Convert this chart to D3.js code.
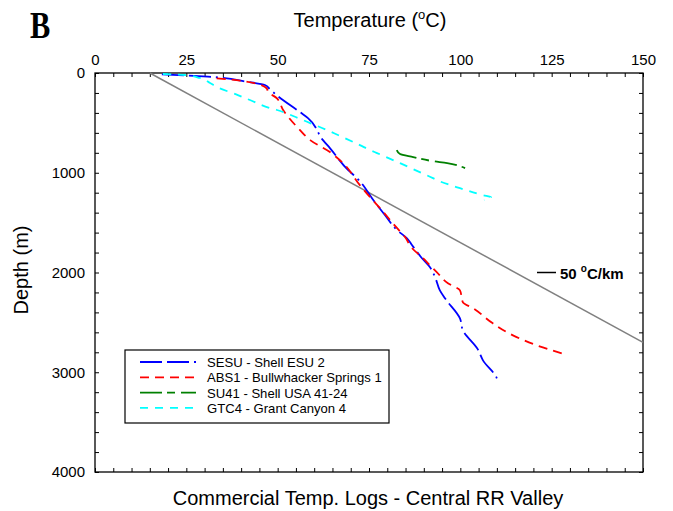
<!DOCTYPE html>
<html>
<head>
<meta charset="utf-8">
<script src="https://cdn.jsdelivr.net/npm/d3@7"></script>
<style>
  body { margin: 0; background: #fff; }
</style>
</head>
<body>
<svg width="673" height="511" font-family="'Liberation Sans', Arial, sans-serif"></svg>
<script>
const svg = d3.select('svg');

// well logs: temperature (C) and depth (m)
const sesuTemp  = [18.3, 30.9, 41.5, 46.5, 47.9, 49.7, 56.1, 58.3, 62.4, 64.3, 69.3, 71.7, 76.6, 79.4, 82.7, 85.4, 86.8, 89.5, 91.7, 93.1, 94.4, 95.8, 99.9, 100.7, 104.8, 106.2, 110.0, 110.2];
const sesuDepth = [13, 37, 87, 120, 164, 221, 392, 452, 673, 753, 974, 1054, 1295, 1426, 1576, 1657, 1727, 1857, 1948, 2048, 2179, 2259, 2460, 2580, 2771, 2881, 3062, 3092];

const abs1Temp  = [33.3, 39.7, 47.0, 47.4, 49.7, 51.5, 56.1, 58.9, 64.3, 67.9, 72.5, 75.3, 78.0, 82.7, 84.9, 86.8, 89.5, 91.7, 93.6, 96.6, 99.9, 100.7, 103.5, 108.9, 114.4, 121.0, 127.8];
const abs1Depth = [53, 77, 154, 191, 251, 371, 572, 673, 793, 904, 1124, 1245, 1355, 1556, 1647, 1757, 1847, 1928, 1998, 2108, 2179, 2299, 2359, 2510, 2630, 2731, 2811];

const su41Temp  = [82.6, 83.5, 87.1, 92.5, 96.4, 99.9, 101.3];
const su41Depth = [773, 813, 843, 884, 904, 934, 954];

const gtc4Temp  = [18.6, 24.6, 28.7, 31.5, 33.4, 39.1, 42.4, 47.9, 49.8, 55.6, 58.9, 63.5, 66.5, 72.5, 75.3, 77.2, 83.5, 89.5, 92.5, 93.6, 99.9, 106.2, 108.4, 106.5];
const gtc4Depth = [10, 20, 50, 100, 141, 221, 271, 351, 371, 452, 502, 572, 622, 723, 773, 803, 904, 1004, 1054, 1074, 1155, 1225, 1245, 1275];

// 50 C/km reference gradient
const gradTemp  = [15, 150];
const gradDepth = [0, 2700];

const legendLabels = ['SESU - Shell ESU 2', 'ABS1 - Bullwhacker Springs 1', 'SU41 - Shell USA 41-24', 'GTC4 - Grant Canyon 4'];
const tempTicks  = [0, 25, 50, 75, 100, 125, 150];
const depthTicks = [0, 1000, 2000, 3000, 4000];

const series = [
  { name: legendLabels[0], t: sesuTemp, d: sesuDepth, color: '#0000ff', dash: '22,5,22,5,2,5' },
  { name: legendLabels[1], t: abs1Temp, d: abs1Depth, color: '#ff0000', dash: '9,6' },
  { name: legendLabels[2], t: su41Temp, d: su41Depth, color: '#008000', dash: '22,5,8,6' },
  { name: legendLabels[3], t: gtc4Temp, d: gtc4Depth, color: '#00ffff', dash: '8,7' }
];

const margin = { left: 95, right: 643, top: 73, bottom: 472 };

const x = d3.scaleLinear().domain([0, 150]).range([margin.left, margin.right]);
const y = d3.scaleLinear().domain([0, 4000]).range([margin.top, margin.bottom]);

const minorT = d3.range(0, 151, 5);
const minorD = d3.range(0, 4001, 200);

// axes, ticks pointing inward
svg.append('g')
    .attr('transform', `translate(0,${margin.top})`)
    .call(d3.axisTop(x).tickValues(minorT).tickSize(-4).tickSizeOuter(0).tickPadding(8)
        .tickFormat(d => tempTicks.includes(d) ? d : ''));

svg.append('g')
    .attr('transform', `translate(0,${margin.bottom})`)
    .call(d3.axisBottom(x).tickValues(minorT).tickSize(-4).tickSizeOuter(0).tickFormat(''));

svg.append('g')
    .attr('transform', `translate(${margin.left},0)`)
    .call(d3.axisLeft(y).tickValues(minorD).tickSize(-4).tickSizeOuter(0).tickPadding(10)
        .tickFormat(d => depthTicks.includes(d) ? d : ''));

svg.append('g')
    .attr('transform', `translate(${margin.right},0)`)
    .call(d3.axisRight(y).tickValues(minorD).tickSize(-4).tickSizeOuter(0).tickFormat(''));

svg.selectAll('.tick text')
    .attr('font-family', null)
    .attr('font-size', 15)
    .attr('fill', '#000');
svg.selectAll('.tick line').attr('stroke', '#000');
svg.selectAll('.domain').remove();

svg.append('rect')
    .attr('x', margin.left).attr('y', margin.top)
    .attr('width', margin.right - margin.left).attr('height', margin.bottom - margin.top)
    .attr('fill', 'none').attr('stroke', '#000').attr('stroke-width', 1.3);

// gradient line
svg.append('path')
    .attr('d', d3.line()(gradTemp.map((t, i) => [x(t), y(gradDepth[i])])))
    .attr('stroke', '#808080').attr('stroke-width', 1.5).attr('fill', 'none');

// logs
const line = s => d3.line().curve(d3.curveMonotoneY)(s.t.map((t, i) => [x(t), y(s.d[i])]));
svg.selectAll('.log').data(series).enter()
  .append('path')
    .attr('class', 'log')
    .attr('d', line)
    .attr('fill', 'none')
    .attr('stroke', s => s.color)
    .attr('stroke-width', 1.8)
    .attr('stroke-dasharray', s => s.dash);

// gradient label
svg.append('line')
    .attr('x1', 537).attr('x2', 556)
    .attr('y1', y(2000)).attr('y2', y(2000))
    .attr('stroke', '#000').attr('stroke-width', 1.5);
const gl = svg.append('text')
    .attr('x', 560).attr('y', y(2000) + 6)
    .attr('font-size', 15).attr('font-weight', 'bold');
gl.append('tspan').text('50 ');
gl.append('tspan').attr('font-size', 10).attr('dy', -7).text('o');
gl.append('tspan').attr('dy', 7).text('C/km');

// legend
const lg = svg.append('g');
lg.append('rect')
    .attr('x', 125).attr('y', 350).attr('width', 264).attr('height', 73)
    .attr('fill', '#fff').attr('stroke', '#000').attr('stroke-width', 1.2);
const rows = lg.selectAll('.row').data(series).enter()
  .append('g')
    .attr('transform', (s, i) => `translate(0,${362 + i * 15.3})`);
rows.append('line')
    .attr('x1', 140).attr('x2', 196)
    .attr('stroke', s => s.color).attr('stroke-width', 1.8)
    .attr('stroke-dasharray', s => s.dash);
rows.append('text')
    .attr('x', 207).attr('y', 5)
    .attr('font-size', 13.1)
    .text(s => s.name);

// titles
const tt = svg.append('text')
    .attr('x', 370).attr('y', 27)
    .attr('text-anchor', 'middle').attr('font-size', 20);
tt.append('tspan').text('Temperature (');
tt.append('tspan').attr('font-size', 13).attr('dy', -8).text('o');
tt.append('tspan').attr('dy', 8).text('C)');

svg.append('text')
    .attr('transform', 'translate(28,270) rotate(-90)')
    .attr('text-anchor', 'middle').attr('font-size', 20)
    .text('Depth (m)');

svg.append('text')
    .attr('x', 368).attr('y', 505)
    .attr('text-anchor', 'middle').attr('font-size', 20)
    .text('Commercial Temp. Logs - Central RR Valley');

svg.append('text')
    .attr('transform', 'translate(30,38) scale(0.8,1)')
    .attr('font-family', '"Liberation Serif", "DejaVu Serif", serif')
    .attr('font-size', 38).attr('font-weight', 'bold')
    .text('B');
</script>
</body>
</html>
